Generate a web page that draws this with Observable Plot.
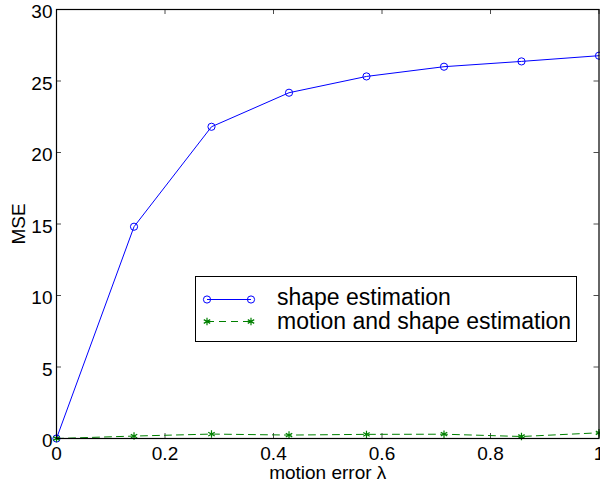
<!DOCTYPE html>
<html>
<head>
<meta charset="utf-8">
<script src="https://cdn.jsdelivr.net/npm/d3@7"></script>
<script src="https://cdn.jsdelivr.net/npm/@observablehq/plot@0.6"></script>
<style>
  html, body { margin: 0; padding: 0; background: #fff; }
  #wrap { position: relative; width: 600px; height: 485px; font-family: "Liberation Sans", Arial, Helvetica, sans-serif; }
  #legend { position: absolute; left: 195px; top: 276px; width: 380px; height: 64px; border: 1px solid #000; background: #fff; }
  #legend svg { position: absolute; left: 0; top: 0; }
  .ltext { position: absolute; left: 81px; font-size: 23px; line-height: 1; color: #000; white-space: nowrap; }
</style>
</head>
<body>
<div id="wrap"></div>
<script>
const xValues = [0, 0.1429, 0.2857, 0.4286, 0.5714, 0.7143, 0.8571, 1];
const shapeEstimation = [0, 14.81, 21.8, 24.18, 25.32, 26.0, 26.37, 26.77];
const motionShapeEstimation = [0, 0.17, 0.31, 0.24, 0.29, 0.3, 0.14, 0.4];
const xTicks = [0, 0.2, 0.4, 0.6, 0.8, 1];
const yTicks = [0, 5, 10, 15, 20, 25, 30];
const seriesNames = ["shape estimation", "motion and shape estimation"];
const xLabel = "motion error λ";
const yLabel = "MSE";

const blue = "#0000ff", green = "#008000";
const shapeData = xValues.map((x, i) => ({x, y: shapeEstimation[i]}));
const motionData = xValues.map((x, i) => ({x, y: motionShapeEstimation[i]}));

const W = 600, H = 485, mL = 56, mR = 1.5, mT = 9, mB = 47;
const pw = W - mL - mR, ph = H - mT - mB, tl = 5;

const chart = Plot.plot({
  width: W, height: H,
  marginLeft: mL, marginRight: mR, marginTop: mT, marginBottom: mB,
  style: {fontFamily: '"Liberation Sans", Arial, Helvetica, sans-serif', fontSize: "19px", background: "#fff", color: "#000", overflow: "visible"},
  x: {domain: [0, 1]},
  y: {domain: [0, 30]},
  marks: [
    // inward ticks on all four sides
    Plot.tickX(xTicks, {x: d => d, insetTop: ph - tl, stroke: "#000", strokeOpacity: 0.7}),
    Plot.tickX(xTicks, {x: d => d, insetBottom: ph - tl, stroke: "#000", strokeOpacity: 0.7}),
    Plot.tickY(yTicks, {y: d => d, insetRight: pw - tl, stroke: "#000", strokeOpacity: 0.7}),
    Plot.tickY(yTicks, {y: d => d, insetLeft: pw - tl, stroke: "#000", strokeOpacity: 0.7}),
    Plot.axisX({ticks: xTicks, tickSize: 0, tickPadding: 8, label: null, tickFormat: d => String(d), fontSize: 19}),
    Plot.axisY({ticks: yTicks, tickSize: 0, tickPadding: 4, label: null, dy: 2.5, fontSize: 19}),
    Plot.text([xLabel], {frameAnchor: "bottom", dy: 34, lineAnchor: "middle", fontSize: 19}),
    Plot.text([yLabel], {frameAnchor: "left", rotate: -90, dx: -38, lineAnchor: "middle", textAnchor: "middle", fontSize: 19}),
    Plot.line(shapeData, {x: "x", y: "y", stroke: blue, strokeWidth: 1}),
    Plot.dot(shapeData, {x: "x", y: "y", r: 3.6, stroke: blue, strokeWidth: 1, fill: "none"}),
    Plot.line(motionData, {x: "x", y: "y", stroke: green, strokeWidth: 1, strokeDasharray: "7,5"}),
    Plot.dot(motionData, {x: "x", y: "y", symbol: "asterisk", r: 3.5, stroke: green, strokeWidth: 1.2}),
    Plot.frame({stroke: "#000", strokeWidth: 1.2})
  ]
});
const wrap = document.getElementById("wrap");
wrap.appendChild(chart);

// legend box (inside the plot area, like the MATLAB legend)
const legend = document.createElement("div");
legend.id = "legend";
legend.innerHTML = `
<svg width="70" height="64">
  <line x1="11" y1="22.5" x2="55" y2="22.5" stroke="${blue}" stroke-width="1"/>
  <circle cx="11" cy="22.5" r="3.6" fill="none" stroke="${blue}"/>
  <circle cx="55" cy="22.5" r="3.6" fill="none" stroke="${blue}"/>
  <line x1="11" y1="44.5" x2="55" y2="44.5" stroke="${green}" stroke-width="1" stroke-dasharray="7,5"/>
</svg>
<div class="ltext" style="top:9px">${seriesNames[0]}</div>
<div class="ltext" style="top:32.5px">${seriesNames[1]}</div>`;
wrap.appendChild(legend);
// asterisk markers for the legend sample, drawn with d3's symbol
const lsvg = d3.select(legend).select("svg");
const ast = d3.symbol(d3.symbolAsterisk, Math.PI * 3.5 * 3.5)();
[11, 55].forEach(cx => lsvg.append("path").attr("d", ast).attr("transform", `translate(${cx},44.5)`).attr("fill", "none").attr("stroke", green).attr("stroke-width", 1.2));
</script>
</body>
</html>
